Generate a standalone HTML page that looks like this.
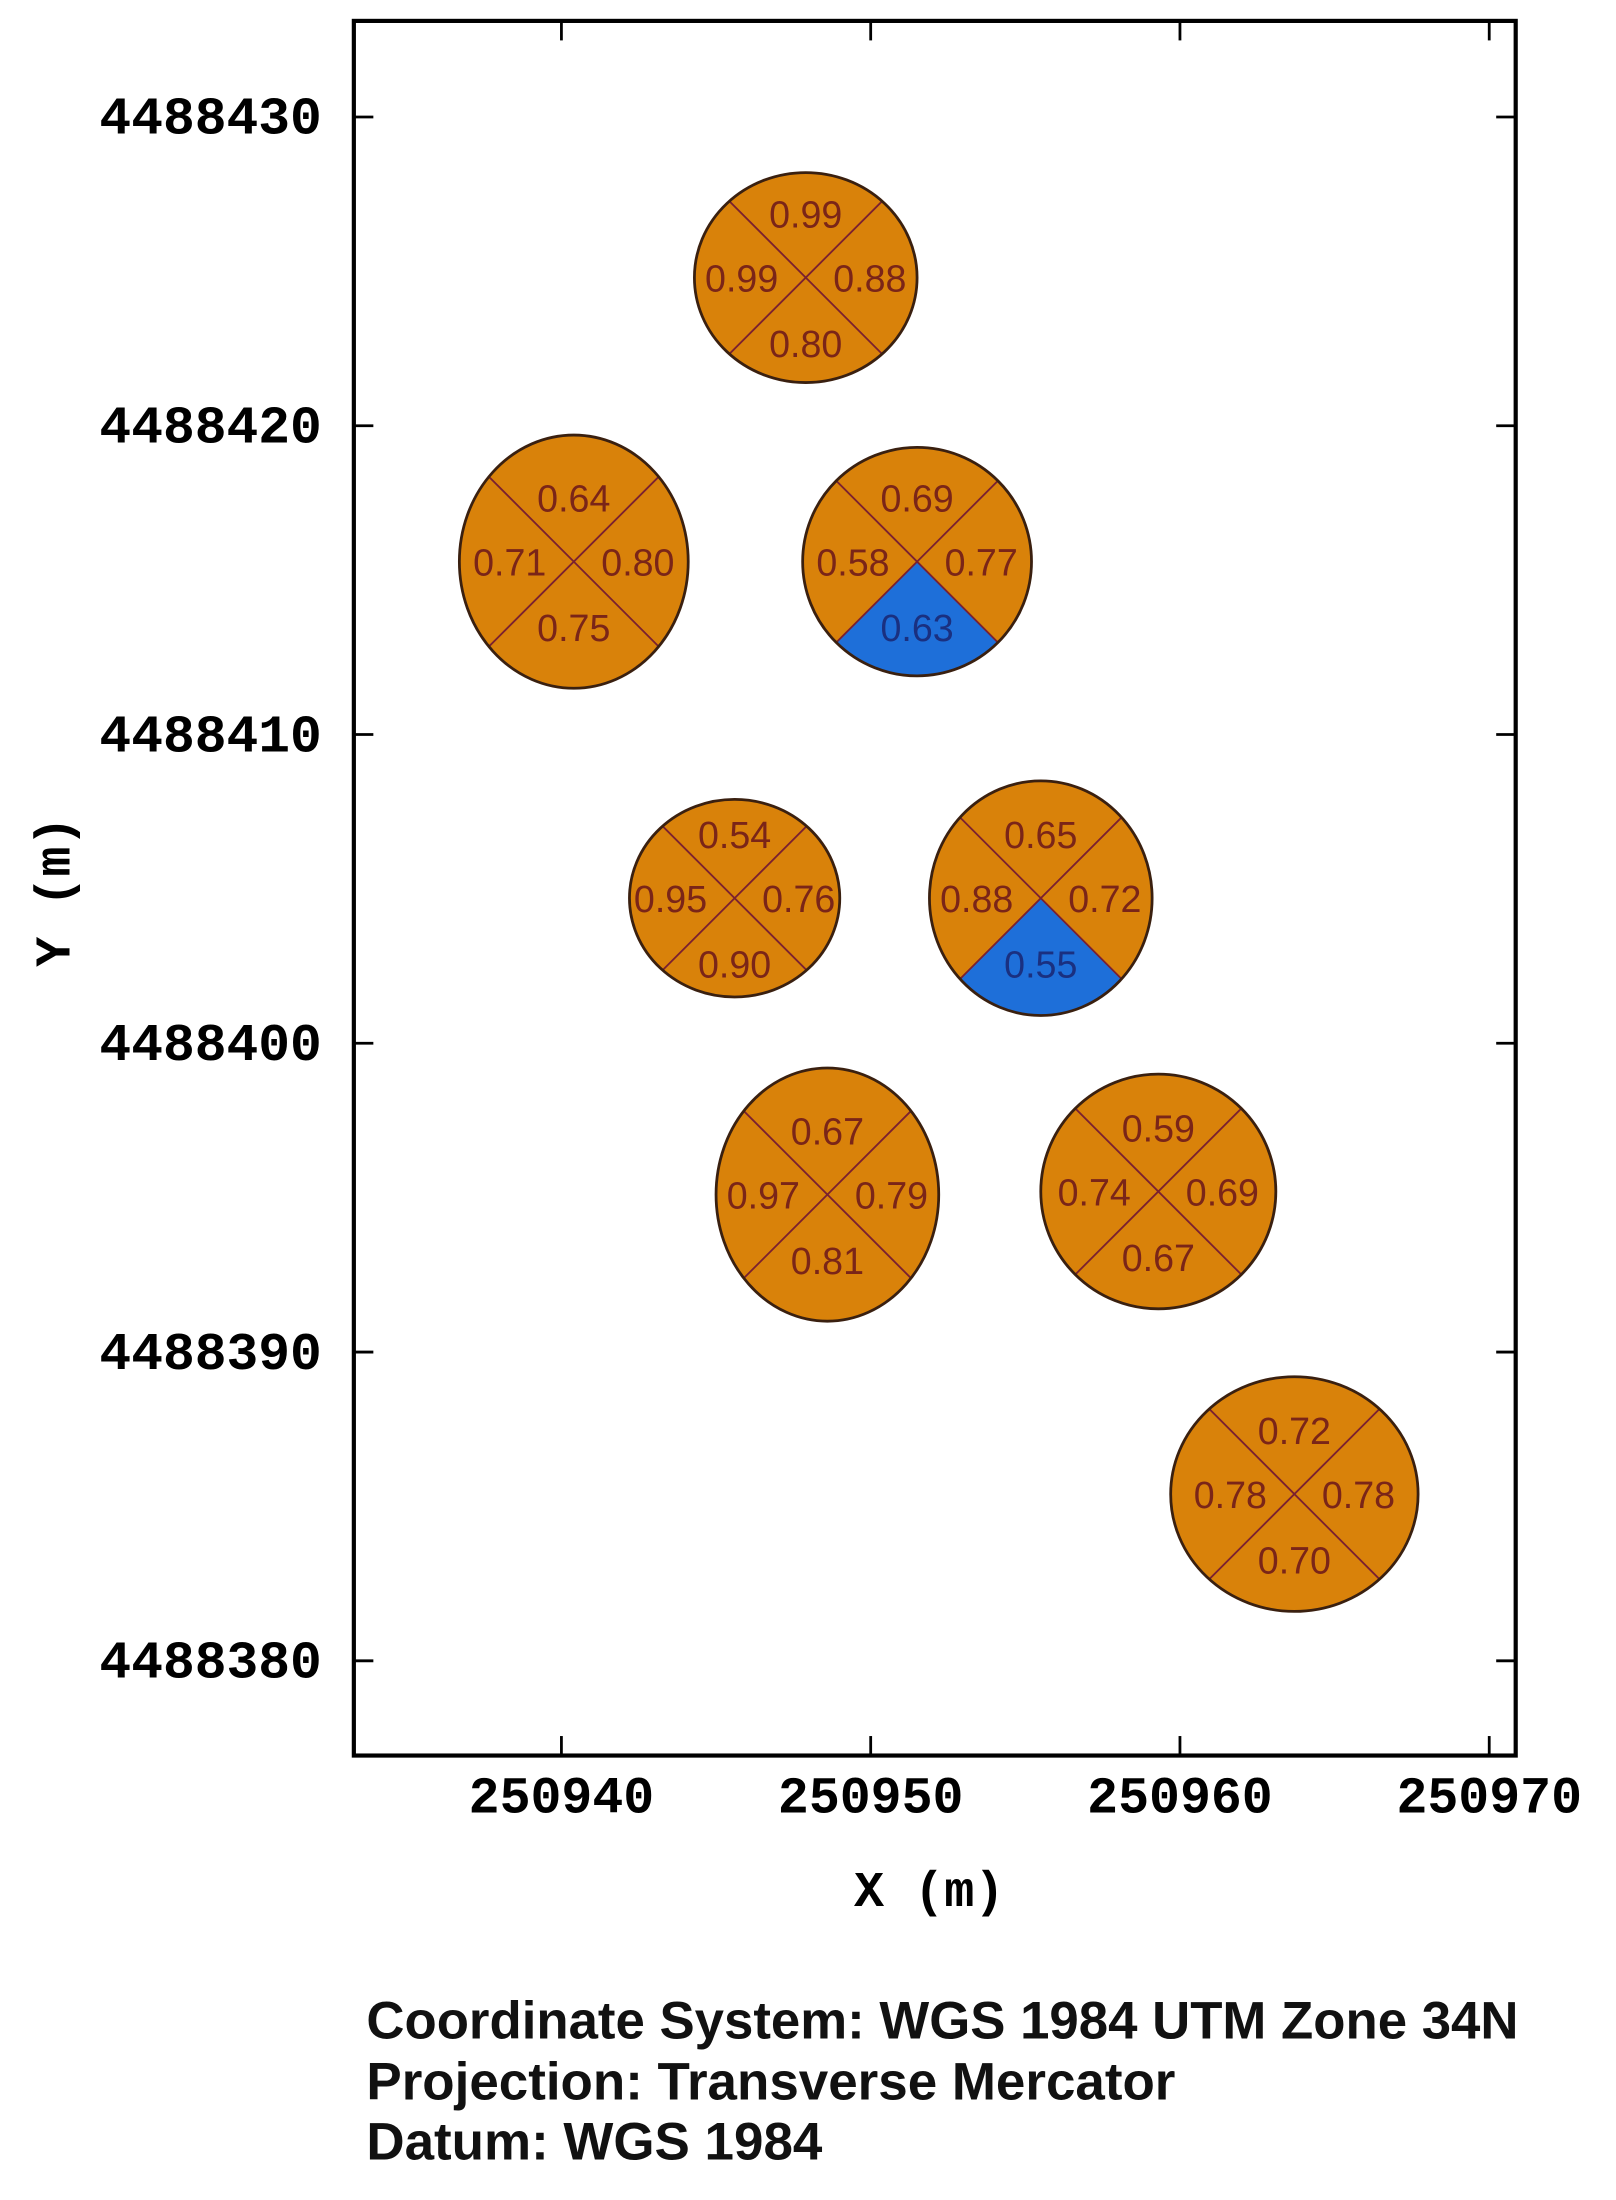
<!DOCTYPE html>
<html><head><meta charset="utf-8"><style>
html,body{margin:0;padding:0;background:#fff;width:1616px;height:2200px;overflow:hidden}
svg{display:block}
</style></head><body>
<svg id="chart" width="1616" height="2200" viewBox="0 0 1160 1579" preserveAspectRatio="none" xmlns="http://www.w3.org/2000/svg">
<defs id="defs"></defs>
<rect x="0" y="0" width="1160" height="1579" fill="#fff"/>
<g id="crowns"></g>
<rect x="254" y="15" width="834" height="1245" fill="none" stroke="#000" stroke-width="3"/>
<g id="axes"></g>
<text x="667" y="1368" text-anchor="middle" font-family="Liberation Mono, monospace" font-weight="bold" font-size="36">X (m)</text>
<text transform="translate(50,640) rotate(-90)" text-anchor="middle" font-family="Liberation Mono, monospace" font-weight="bold" font-size="36">Y (m)</text>
<g font-family="Liberation Sans, Arial, sans-serif" font-weight="bold" font-size="38" fill="#111">
<text x="263" y="1463" textLength="827" lengthAdjust="spacingAndGlyphs">Coordinate System: WGS 1984 UTM Zone 34N</text>
<text x="263" y="1507">Projection: Transverse Mercator</text>
<text x="263" y="1550">Datum: WGS 1984</text>
</g>
</svg>
<script>
const xTicks = [250940, 250950, 250960, 250970];
const yTicks = [4488430, 4488420, 4488410, 4488400, 4488390, 4488380];
const crownX = [250947.9, 250940.4, 250951.5, 250945.6, 250955.5, 250948.6, 250959.3, 250963.7];
const crownY = [4488424.8, 4488415.6, 4488415.6, 4488404.7, 4488404.7, 4488395.1, 4488395.2, 4488385.4];
const crownRx = [3.6, 3.7, 3.7, 3.4, 3.6, 3.6, 3.8, 4.0];
const crownRy = [3.4, 4.1, 3.7, 3.2, 3.8, 4.1, 3.8, 3.8];
const valTop = ["0.99","0.64","0.69","0.54","0.65","0.67","0.59","0.72"];
const valLeft = ["0.99","0.71","0.58","0.95","0.88","0.97","0.74","0.78"];
const valRight = ["0.88","0.80","0.77","0.76","0.72","0.79","0.69","0.78"];
const valBottom = ["0.80","0.75","0.63","0.90","0.55","0.81","0.67","0.70"];
const bottomClass = ["high","high","low","high","low","high","high","high"];

const NS = "http://www.w3.org/2000/svg";
const sx = v => 403 + (v - 250940) * 22.2;
const sy = v => 84 + (4488430 - v) * 22.16;
const defs = document.getElementById('defs');
const crownsG = document.getElementById('crowns');
const axesG = document.getElementById('axes');
function mk(tag, attrs, parent){ const e=document.createElementNS(NS,tag); for(const k in attrs) e.setAttribute(k,attrs[k]); parent.appendChild(e); return e; }

xTicks.forEach(t=>{
  const x=sx(t);
  const tb=mk('line',{x1:x,y1:1260,x2:x,y2:1246,stroke:'#000','stroke-width':2},axesG);
  
  
  const tt=mk('line',{x1:x,y1:15,x2:x,y2:29,stroke:'#000','stroke-width':2},axesG);
  
  
  const lb=mk('text',{x:x,y:1301,'text-anchor':'middle','font-family':'Liberation Mono, monospace','font-weight':'bold','font-size':37},axesG);
  lb.textContent=t;
  
  
});
yTicks.forEach(t=>{
  const y=sy(t);
  const tl=mk('line',{x1:254,y1:y,x2:268,y2:y,stroke:'#000','stroke-width':2},axesG);
  
  
  const tr=mk('line',{x1:1088,y1:y,x2:1074,y2:y,stroke:'#000','stroke-width':2},axesG);
  
  
  const lb=mk('text',{x:231,y:y+12,'text-anchor':'end','font-family':'Liberation Mono, monospace','font-weight':'bold','font-size':38},axesG);
  lb.textContent=t;
  
  
});

crownX.forEach((mx,i)=>{
  const cx=sx(mx), cy=sy(crownY[i]), rx=crownRx[i]*22.2, ry=crownRy[i]*22.16;
  const cp=mk('clipPath',{id:'clip'+i},defs);
  mk('ellipse',{cx:cx,cy:cy,rx:rx,ry:ry},cp);
  const g=mk('g',{},crownsG);
  
  
  const el=mk('ellipse',{cx:cx,cy:cy,rx:rx,ry:ry,fill:'#D9820A'},g);
  
  
  const R=Math.max(rx,ry)*1.6;
  if(bottomClass[i]==='low'){
    const p=mk('polygon',{points:`${cx},${cy} ${cx+R},${cy+R} ${cx-R},${cy+R}`,fill:'#1E6FD9','clip-path':`url(#clip${i})`},g);
    
    
  }
  const l1=mk('line',{x1:cx-R,y1:cy-R,x2:cx+R,y2:cy+R,stroke:'#7a2030','stroke-width':1.3,'clip-path':`url(#clip${i})`},g);
  
  
  const l2=mk('line',{x1:cx-R,y1:cy+R,x2:cx+R,y2:cy-R,stroke:'#7a2030','stroke-width':1.3,'clip-path':`url(#clip${i})`},g);
  
  
  const ol=mk('ellipse',{cx:cx,cy:cy,rx:rx,ry:ry,fill:'none',stroke:'#3a2010','stroke-width':2},g);
  
  
  const labs=[[valTop[i],0,-46,'top'],[valLeft[i],-46,0,'left'],[valRight[i],46,0,'right'],[valBottom[i],0,47,'bottom']];
  labs.forEach(([v,dx,dy,pos])=>{
    const blue = pos==='bottom' && bottomClass[i]==='low';
    const t=mk('text',{x:cx+dx,y:cy+dy+10,'text-anchor':'middle','font-family':'Liberation Sans, Arial, sans-serif','font-size':27,fill:blue?'#1a3080':'#7a2518'},g);
    t.textContent=v;
    
    
  });
});
</script>
</body></html>
